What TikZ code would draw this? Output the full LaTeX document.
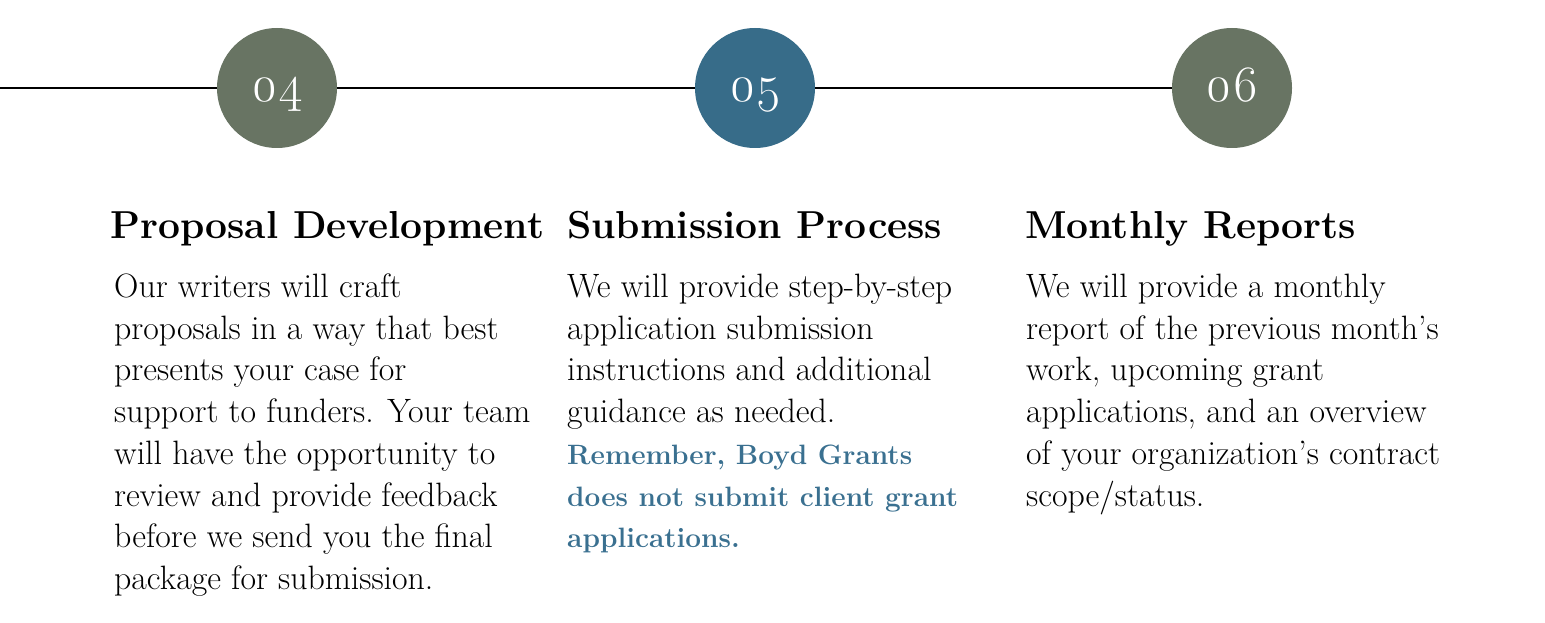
\documentclass[tikz,border=0pt]{standalone}
\usepackage{fontspec}
\setmainfont{Latin Modern Roman}
\newfontfamily\numfont{Latin Modern Roman}[Numbers=OldStyle]
\definecolor{sage}{HTML}{687463}
\definecolor{steel}{HTML}{376C89}
\definecolor{accent}{HTML}{3A7090}
\begin{document}
\begin{tikzpicture}[x=1pt,y=-1pt]
\useasboundingbox (0,0) rectangle (1545,623);
\tikzset{
  stepcirc/.style={circle, minimum size=120pt, inner sep=0pt, draw=none},
  num/.style={anchor=base, inner sep=0pt, text=white, font=\numfont\fontsize{51}{51}\selectfont},
  head/.style={anchor=base west, inner sep=0pt, font=\bfseries\fontsize{39}{42}\selectfont},
  body/.style={anchor=base west, inner sep=0pt, align=left, font=\fontsize{33.8}{41.7}\selectfont},
  timeline/.style={line width=2pt, black}
}
\node[stepcirc, fill=sage]  (c04) at (277,88) {};
\node[stepcirc, fill=steel] (c05) at (755,88) {};
\node[stepcirc, fill=sage]  (c06) at (1232,88) {};
\node[num] (n04) at (277.5,102) {04};
\node[num] (n05) at (755.5,102) {05};
\node[num] (n06) at (1232.5,102) {06};
\coordinate (start) at (0,88);
\draw[timeline] (start) -- (c04.west);
\draw[timeline] (c04.east) -- (c05.west);
\draw[timeline] (c05.east) -- (c06.west);

\node[head] (h1) at (110,238) {Proposal Development};
\node[head] (h2) at (567,238) {Submission Process};
\node[head] (h3) at (1025,238) {Monthly Reports};

% base anchor of a multi-line node is the baseline of its last line
\node[body] (b1) at (114,589.4) {Our writers will craft\\proposals in a way that best\\presents your case for\\support to funders. Your team\\will have the opportunity to\\review and provide feedback\\before we send you the final\\package for submission.};
\node[body] (b2) at (567,547.7) {We will provide step-by-step\\application submission\\instructions and additional\\guidance as needed.\\{\bfseries\color{accent}\fontsize{28}{41.7}\selectfont Remember, Boyd Grants}\\{\bfseries\color{accent}\fontsize{28}{41.7}\selectfont does not submit client grant}\\{\bfseries\color{accent}\fontsize{28}{41.7}\selectfont applications.}};
\node[body] (b3) at (1026,506) {We will provide a monthly\\report of the previous month’s\\work, upcoming grant\\applications, and an overview\\of your organization’s contract\\scope/status.};
\end{tikzpicture}
\end{document}
